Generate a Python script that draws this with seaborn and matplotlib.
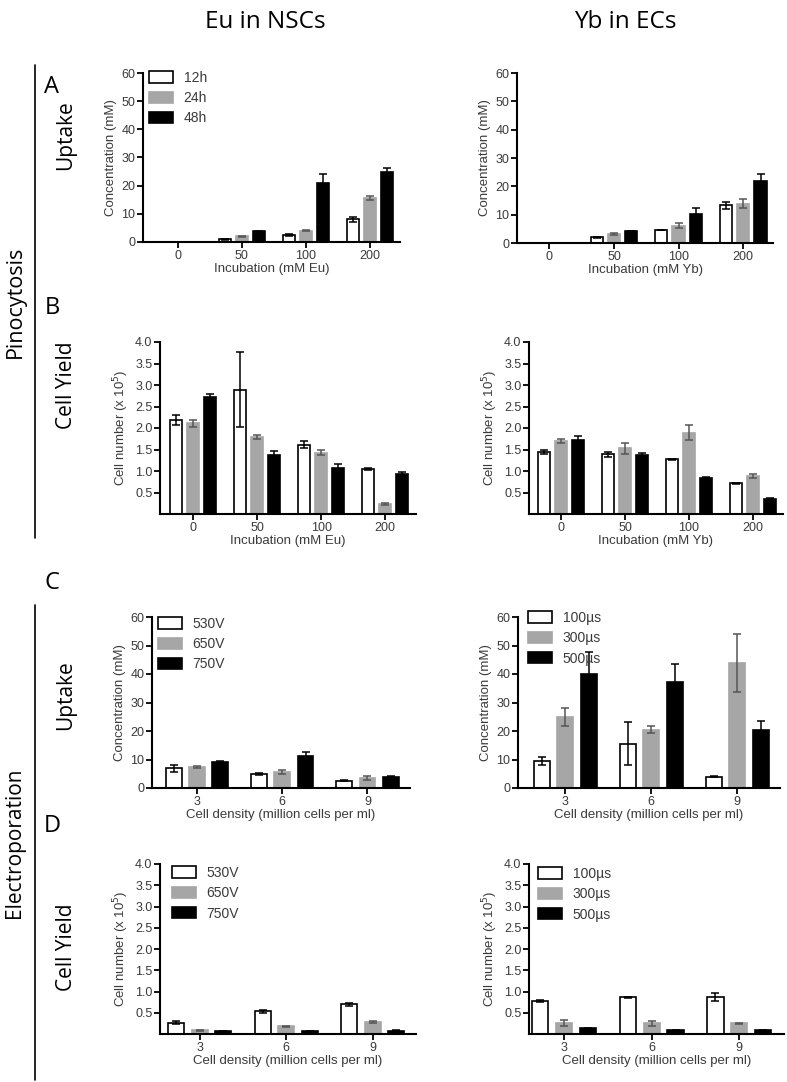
import numpy as np
import pandas as pd
import matplotlib
matplotlib.use("Agg")
import matplotlib.pyplot as plt
import seaborn as sns
from matplotlib.patches import Patch
from matplotlib.lines import Line2D
from matplotlib.container import BarContainer

sns.set_theme(style="ticks")
plt.rcParams['font.family'] = ['Liberation Sans', 'DejaVu Sans']

# ---- data ----
incubation = ['0', '50', '100', '200']
time_labels = ['12h', '24h', '48h']
eu_uptake = [[0, 1.0, 2.5, 8.1], [0, 2.1, 4.0, 15.6], [0, 3.8, 20.9, 24.8]]
eu_uptake_err = [[0, 0.15, 0.2, 0.9], [0, 0.2, 0.2, 0.7], [0, 0.2, 3.3, 1.3]]
yb_uptake = [[0, 2.0, 4.6, 13.3], [0, 3.2, 6.1, 13.9], [0, 4.2, 10.2, 21.9]]
yb_uptake_err = [[0, 0.2, 0.1, 1.3], [0, 0.4, 0.9, 1.5], [0, 0.1, 2.0, 2.5]]
eu_yield = [[2.19, 2.89, 1.61, 1.04], [2.11, 1.79, 1.43, 0.24], [2.71, 1.37, 1.08, 0.94]]
eu_yield_err = [[0.11, 0.87, 0.08, 0.02], [0.08, 0.04, 0.06, 0.02], [0.07, 0.10, 0.09, 0.03]]
yb_yield = [[1.44, 1.39, 1.27, 0.71], [1.70, 1.53, 1.89, 0.89], [1.72, 1.38, 0.84, 0.36]]
yb_yield_err = [[0.05, 0.06, 0.02, 0.02], [0.04, 0.13, 0.17, 0.05], [0.10, 0.05, 0.01, 0.01]]

density = ['3', '6', '9']
voltage_labels = ['530V', '650V', '750V']
pulse_labels = ['100µs', '300µs', '500µs']
eu_ep_uptake = [[6.9, 4.8, 2.6], [7.3, 5.6, 3.5], [9.0, 11.1, 3.9]]
eu_ep_uptake_err = [[1.2, 0.4, 0.3], [0.4, 0.6, 0.7], [0.3, 1.6, 0.2]]
yb_ep_uptake = [[9.4, 15.5, 4.0], [24.9, 20.5, 43.9], [40.0, 37.3, 20.5]]
yb_ep_uptake_err = [[1.4, 7.5, 0.2], [3.3, 1.3, 10.3], [7.6, 6.2, 3.0]]
eu_ep_yield = [[0.27, 0.53, 0.70], [0.09, 0.18, 0.28], [0.07, 0.07, 0.08]]
eu_ep_yield_err = [[0.03, 0.04, 0.04], [0.01, 0.02, 0.03], [0.01, 0.01, 0.01]]
yb_ep_yield = [[0.78, 0.86, 0.87], [0.27, 0.25, 0.25], [0.13, 0.09, 0.09]]
yb_ep_yield_err = [[0.02, 0.02, 0.10], [0.07, 0.05, 0.01], [0.01, 0.01, 0.01]]

conc_ticks = [0, 10, 20, 30, 40, 50, 60]
cell_ticks = [0.5, 1.0, 1.5, 2.0, 2.5, 3.0, 3.5, 4.0]

# ---- styling ----
W, H = 787, 1082
GRAY = '#a6a6a6'
TXT = '#3a3a3a'
FILLS = ['white', GRAY, 'black']
EDGES = ['black', GRAY, 'black']
ERRC = ['black', '#555555', 'black']

fig = plt.figure(figsize=(W / 100, H / 100), dpi=100)


def px_axes(x0, x1, ytop, ybot):
    return fig.add_axes([x0 / W, 1 - ybot / H, (x1 - x0) / W, (ybot - ytop) / H])


def bar_panel(box, cats, groups, means, errs, xlim, ylim, yticks, ylabel, xlabel,
              width=0.8, gap=0.29, legend=None):
    ax = px_axes(*box)
    df = pd.DataFrame([(c, g, means[j][i]) for j, g in enumerate(groups)
                       for i, c in enumerate(cats)], columns=['cat', 'grp', 'val'])
    sns.barplot(data=df, x='cat', y='val', hue='grp', order=cats, hue_order=groups,
                palette=FILLS, width=width, gap=gap, errorbar=None, legend=False,
                edgecolor='black', linewidth=1.2, saturation=1, ax=ax)
    bar_sets = [c for c in ax.containers if isinstance(c, BarContainer)]
    for j, cont in enumerate(bar_sets):
        for i, bar in enumerate(cont.patches):
            bar.set_edgecolor(EDGES[j])
            e = errs[j][i]
            if e > 0:
                ax.errorbar(bar.get_x() + bar.get_width() / 2, bar.get_height(), yerr=e,
                            fmt='none', ecolor=ERRC[j], elinewidth=1.1, capsize=3,
                            capthick=1.1, zorder=5)
    ax.set_xlim(*xlim)
    ax.set_ylim(*ylim)
    ax.set_yticks(yticks)
    if isinstance(yticks[0], float):
        ax.set_yticklabels([f'{t:.1f}' for t in yticks])
    ax.set_ylabel(ylabel, fontsize=9.5, color=TXT, labelpad=3)
    ax.set_xlabel(xlabel, fontsize=9.5, color=TXT, labelpad=1)
    ax.tick_params(axis='both', labelsize=9, colors='black', labelcolor=TXT,
                   length=4, width=1.3, pad=1.5, direction='out')
    sns.despine(ax=ax)
    for s in ['left', 'bottom']:
        ax.spines[s].set_linewidth(1.5)
        ax.spines[s].set_color('black')
    if legend is not None:
        dx, dy = legend
        handles = [Patch(facecolor=FILLS[k], edgecolor=EDGES[k], linewidth=1.2)
                   for k in range(3)]
        ax.legend(handles, groups, loc='upper left',
                  bbox_to_anchor=(dx / (box[1] - box[0]), 1 + dy / (box[3] - box[2])),
                  frameon=False, fontsize=10, labelcolor=TXT, handlelength=1.7,
                  handleheight=0.9, labelspacing=0.45, handletextpad=0.8,
                  borderaxespad=0, borderpad=0)
    return ax


conc_label = 'Concentration (mM)'
cell_label = 'Cell number (x 10$^5$)'
dens_label = 'Cell density (million cells per ml)'

# A
bar_panel((143, 400, 73, 242), incubation, time_labels, eu_uptake, eu_uptake_err,
          (-0.54, 3.47), (0, 60), conc_ticks, conc_label, 'Incubation (mM Eu)',
          legend=(6, 2))
bar_panel((517, 773, 73, 243), incubation, time_labels, yb_uptake, yb_uptake_err,
          (-0.5, 3.46), (0, 60), conc_ticks, conc_label, 'Incubation (mM Yb)')
# B
bar_panel((160, 416, 342, 514), incubation, time_labels, eu_yield, eu_yield_err,
          (-0.52, 3.48), (0, 4), cell_ticks, cell_label, 'Incubation (mM Eu)')
bar_panel((529, 783, 342, 514), incubation, time_labels, yb_yield, yb_yield_err,
          (-0.5, 3.47), (0, 4), cell_ticks, cell_label, 'Incubation (mM Yb)')
# C
bar_panel((152, 410, 617, 788), density, voltage_labels, eu_ep_uptake, eu_ep_uptake_err,
          (-0.53, 2.5), (0, 60), conc_ticks, conc_label, dens_label,
          width=0.82, gap=0.32, legend=(6, 0))
bar_panel((518, 780, 617, 788), density, pulse_labels, yb_ep_uptake, yb_ep_uptake_err,
          (-0.55, 2.5), (0, 60), conc_ticks, conc_label, dens_label,
          width=0.82, gap=0.32, legend=(10, 6))
# D
bar_panel((160, 416, 864, 1034), density, voltage_labels, eu_ep_yield, eu_ep_yield_err,
          (-0.46, 2.5), (0, 4), cell_ticks, cell_label, dens_label,
          width=0.82, gap=0.32, legend=(12, -2))
bar_panel((529, 784, 864, 1034), density, pulse_labels, yb_ep_yield, yb_ep_yield_err,
          (-0.4, 2.51), (0, 4), cell_ticks, cell_label, dens_label,
          width=0.82, gap=0.32, legend=(9, -3))

# ---- outer annotations ----
BIG = ['Open Sans', 'DejaVu Sans']


def ftext(x, y, s, size=15, rot=0):
    fig.text(x / W, 1 - y / H, s, fontsize=size, rotation=rot, ha='center',
             va='center', family=BIG, color='black')


ftext(265, 22, 'Eu in NSCs', size=17.5)
ftext(625, 22, 'Yb in ECs', size=17.5)
for letter, y in [('A', 87), ('B', 308), ('C', 583), ('D', 826)]:
    ftext(52, y, letter, size=17)
ftext(15, 302, 'Pinocytosis', size=15.5, rot=90)
ftext(15, 843, 'Electroporation', rot=90)
for label, y in [('Uptake', 135), ('Cell Yield', 385), ('Uptake', 695), ('Cell Yield', 947)]:
    ftext(66, y, label, rot=90)
for y0, y1 in [(65, 538), (605, 1080)]:
    fig.add_artist(Line2D([35 / W, 35 / W], [1 - y0 / H, 1 - y1 / H],
                          transform=fig.transFigure, color='black', linewidth=1.2))

fig.savefig('out.png', dpi=100)
